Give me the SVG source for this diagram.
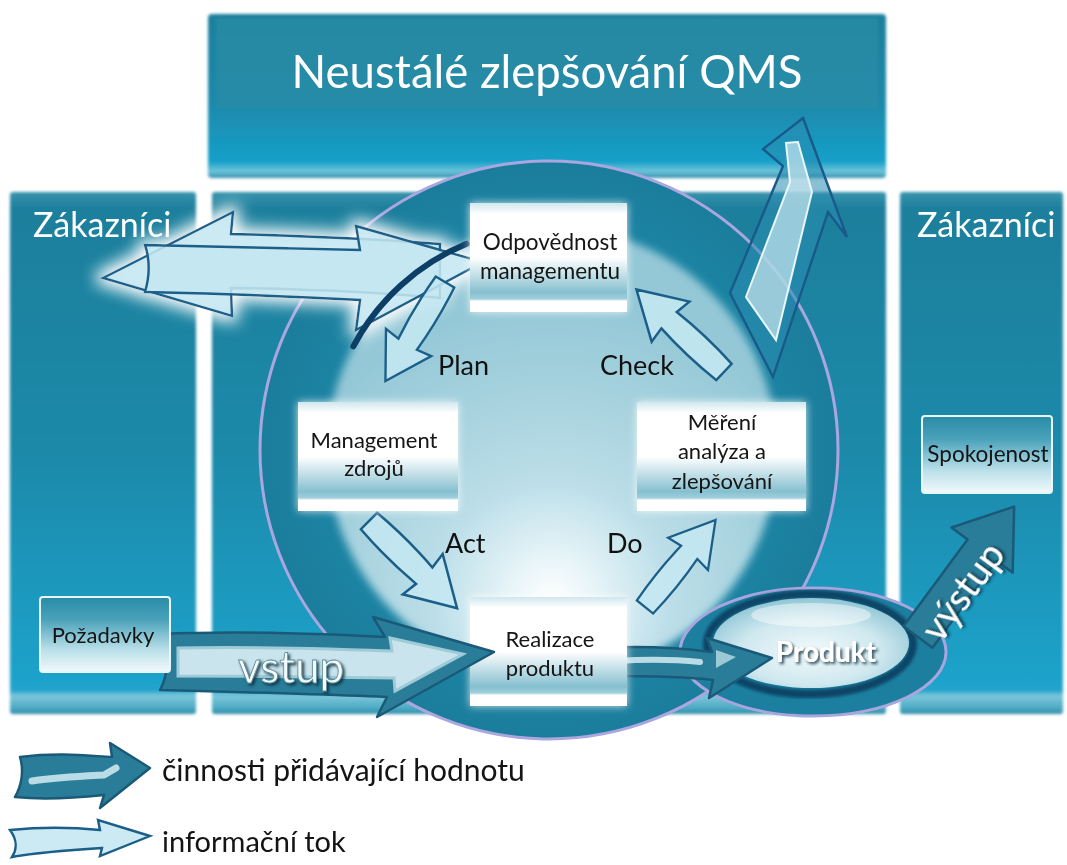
<svg xmlns="http://www.w3.org/2000/svg" xmlns:xlink="http://www.w3.org/1999/xlink" width="1067" height="865" viewBox="0 0 1067 865">
  <style>
    .ttl { font-family: Lato, "Liberation Sans", sans-serif; fill: #ffffff; }
    .lbl { font-family: Lato, "Liberation Sans", sans-serif; fill: #141414; }
    .phase { font-family: Lato, "Liberation Sans", sans-serif; fill: #111111; font-size: 27px; }
    .info { fill: #c4e7f1; fill-opacity: 0.88; stroke: #1b5f88; stroke-width: 2.4; stroke-linejoin: miter; }
    .value { fill: #2a7d98; stroke: #1a5a78; stroke-width: 2.5; stroke-linejoin: round; }
    .valueIn { fill: #c9e4ec; stroke: #9fcbd8; stroke-width: 3; }
    .box { fill: url(#boxGrad); }
    .sbox { fill: url(#sideBoxGrad); stroke: #e8f6fa; stroke-width: 2; }
  </style>
  <defs>
    <linearGradient id="panelGrad" x1="0" y1="0" x2="0" y2="1">
      <stop offset="0" stop-color="#3894ad"/>
      <stop offset="0.03" stop-color="#1f7f9c"/>
      <stop offset="0.5" stop-color="#1d89a9"/>
      <stop offset="0.9" stop-color="#1aa0c8"/>
      <stop offset="0.955" stop-color="#21a4cc"/>
      <stop offset="0.965" stop-color="#7cc7db"/>
      <stop offset="0.99" stop-color="#4aa8c2"/>
      <stop offset="1" stop-color="#2b8aa4"/>
    </linearGradient>
    <linearGradient id="bannerGrad" x1="0" y1="0" x2="0" y2="1">
      <stop offset="0" stop-color="#1f7f9b"/>
      <stop offset="0.55" stop-color="#1b89ab"/>
      <stop offset="0.9" stop-color="#18a0c9"/>
      <stop offset="0.96" stop-color="#6fc4da"/>
      <stop offset="1" stop-color="#2c8eaa"/>
    </linearGradient>
    <radialGradient id="ringGrad" cx="549" cy="450" r="289" gradientUnits="userSpaceOnUse">
      <stop offset="0.7" stop-color="#1c86a6"/>
      <stop offset="1" stop-color="#1b7d9c"/>
    </radialGradient>
    <radialGradient id="diskGrad" cx="552" cy="600" r="300" gradientUnits="userSpaceOnUse">
      <stop offset="0" stop-color="#ffffff"/>
      <stop offset="0.15" stop-color="#e6f4f8"/>
      <stop offset="0.4" stop-color="#bbdee8"/>
      <stop offset="0.7" stop-color="#a6d2de"/>
      <stop offset="1" stop-color="#94c8d7"/>
    </radialGradient>
    <linearGradient id="boxGrad" x1="0" y1="0" x2="0" y2="1">
      <stop offset="0" stop-color="#cfe7ee"/>
      <stop offset="0.1" stop-color="#ffffff"/>
      <stop offset="0.5" stop-color="#ffffff"/>
      <stop offset="0.82" stop-color="#86c0d0"/>
      <stop offset="0.88" stop-color="#9fcfdc"/>
      <stop offset="0.9" stop-color="#ffffff"/>
      <stop offset="1" stop-color="#ffffff"/>
    </linearGradient>
    <linearGradient id="sideBoxGrad" x1="0" y1="0" x2="0" y2="1">
      <stop offset="0" stop-color="#2a8ba7"/>
      <stop offset="0.3" stop-color="#4aa2ba"/>
      <stop offset="0.7" stop-color="#b9dfe9"/>
      <stop offset="1" stop-color="#f2fafc"/>
    </linearGradient>
    <radialGradient id="prodGrad" cx="0.5" cy="0.6" r="0.6">
      <stop offset="0" stop-color="#f2fafc"/>
      <stop offset="0.6" stop-color="#cfe8ef"/>
      <stop offset="1" stop-color="#8fc6d6"/>
    </radialGradient>
    <filter id="soft" x="-5%" y="-5%" width="110%" height="110%">
      <feGaussianBlur stdDeviation="1.4"/>
    </filter>
    <filter id="blur4" x="-10%" y="-10%" width="120%" height="120%">
      <feGaussianBlur stdDeviation="4"/>
    </filter>
    <filter id="glow" x="-30%" y="-40%" width="160%" height="180%">
      <feMorphology in="SourceAlpha" operator="dilate" radius="5" result="d"/>
      <feGaussianBlur in="d" stdDeviation="8" result="b"/>
      <feFlood flood-color="#ffffff" flood-opacity="1"/>
      <feComposite in2="b" operator="in" result="g"/>
      <feMerge><feMergeNode in="g"/><feMergeNode in="SourceGraphic"/></feMerge>
    </filter>
    <filter id="boxGlow" x="-20%" y="-20%" width="140%" height="140%">
      <feGaussianBlur in="SourceAlpha" stdDeviation="4" result="b"/>
      <feFlood flood-color="#ffffff" flood-opacity="0.8"/>
      <feComposite in2="b" operator="in" result="g"/>
      <feMerge><feMergeNode in="g"/><feMergeNode in="SourceGraphic"/></feMerge>
    </filter>
    <filter id="txtShadow" x="-20%" y="-30%" width="140%" height="160%">
      <feGaussianBlur in="SourceAlpha" stdDeviation="1.6" result="b"/>
      <feOffset in="b" dx="1.5" dy="1.5" result="o"/>
      <feFlood flood-color="#0a2a3a" flood-opacity="0.85"/>
      <feComposite in2="o" operator="in" result="s"/>
      <feMerge><feMergeNode in="s"/><feMergeNode in="SourceGraphic"/></feMerge>
    </filter>
    <!-- light PDCA arrow, pointing along +x, 118 long -->
    <path id="pdcaArrow" d="M0,-11 C25,-13 50,-13 74,-11 L72,-27 L118,0 L72,27 L74,11 C50,13 25,13 0,11 Z"/>
  </defs>

  <rect width="1067" height="865" fill="#ffffff"/>

  <!-- background panels -->
  <g id="panels" filter="url(#soft)">
    <rect x="208" y="14" width="678" height="164" rx="4" fill="url(#bannerGrad)"/>
    <rect x="216" y="18" width="662" height="90" fill="#2b8ca6" opacity="0.75"/>
    <rect x="10" y="192" width="186" height="522" rx="3" fill="url(#panelGrad)"/>
    <rect x="212" y="192" width="674" height="522" rx="3" fill="url(#panelGrad)"/>
    <rect x="900" y="192" width="163" height="522" rx="3" fill="url(#panelGrad)"/>
  </g>

  <g id="title">
    <text class="ttl" x="547" y="88" font-size="45.5" text-anchor="middle">Neustálé zlepšování QMS</text>
    <text class="ttl" x="33" y="237" font-size="34">Zákazníci</text>
    <text class="ttl" x="917" y="237" font-size="34">Zákazníci</text>
  </g>

  <!-- PDCA circle -->
  <g id="cycle">
    <circle cx="549" cy="450" r="289" fill="url(#ringGrad)" stroke="#a9a6e0" stroke-width="3"/>
    <circle cx="552" cy="452" r="225" fill="url(#diskGrad)" filter="url(#blur4)"/>
  </g>

  <!-- product ellipse -->
  <g id="produkt">
    <ellipse cx="813" cy="652" rx="133" ry="64" fill="#1c7f9f" stroke="#a8a5df" stroke-width="3"/>
    <ellipse cx="810" cy="644" rx="103" ry="50" fill="none" stroke="#0c4466" stroke-width="8" filter="url(#soft)"/>
    <ellipse cx="811" cy="643" rx="98" ry="45" fill="url(#prodGrad)"/>
    <ellipse cx="811" cy="615" rx="60" ry="12" fill="#ffffff" opacity="0.45"/>
  </g>

  <!-- upward arrow towards the improvement banner -->
  <g id="improve-arrow">
    <path d="M803,118 L847,237 L828,212 L773,377 L730,293 L783,166 L763,149 Z" fill="#2a8db0" fill-opacity="0.55" stroke="#1a5a8a" stroke-width="2.4" stroke-linejoin="miter"/>
    <path d="M786,143 L798,142 L812,192 L776,340 L746,297 L790,182 Z" fill="#cbe7ef" fill-opacity="0.7" stroke="#e9f6fa" stroke-width="2"/>
  </g>

  <g id="connectors">
    <!-- customer information exchange -->
    <g filter="url(#glow)">
      <path class="info" d="M103,278 L233,212 L231,234 C320,236 390,240 440,244 L440,298 C380,292 310,289 231,288 L232,316 Z"/>
      <path class="info" d="M145,245 C250,247 310,249 360,250 L356,226 L483,262 L356,330 L360,300 C300,297 240,294 145,292 C150,275 150,260 145,245 Z"/>
    </g>
    <!-- shaded inner edge of the cycle -->
    <path d="M466.6,243.8 A225,225 0 0 0 353.3,346.4" fill="none" stroke="#0d3f66" stroke-width="6" stroke-linecap="round"/>
    <!-- PDCA information arrows -->
    <use xlink:href="#pdcaArrow" class="info" transform="translate(445,282) rotate(121) scale(0.98)"/>
    <use xlink:href="#pdcaArrow" class="info" transform="translate(724,372) rotate(-136.7) scale(1.02)"/>
    <use xlink:href="#pdcaArrow" class="info" transform="translate(369,521) rotate(44.7) scale(1.05)"/>
    <use xlink:href="#pdcaArrow" class="info" transform="translate(645,607) rotate(-51) scale(0.95)"/>

    <!-- value adding arrows -->
    <g id="to-product">
      <path class="value" d="M605,648 C640,646 680,648 712,652 L707,638 L772,658 L709,698 L713,680 C680,676 640,676 607,676 C602,665 602,656 605,648 Z"/>
      <path d="M616,661 C650,659 680,660 700,662" fill="none" stroke="#b9dce6" stroke-width="6" stroke-linecap="round"/>
      <path d="M716,668 L736,657 L716,650 Z" fill="#b9dce6" opacity="0.8"/>
    </g>
    <g id="vystup">
      <path class="value" transform="translate(918,637) rotate(-53.6)" d="M0,-18 L108,-18 L108,-38 L162,0 L108,38 L108,18 L0,18 Z"/>
      <text transform="translate(963,592) rotate(-53.6)" x="0" y="13" text-anchor="middle" font-family="Lato, 'Liberation Sans', sans-serif" font-size="38" fill="#ffffff" filter="url(#txtShadow)">výstup</text>
    </g>
  </g>

  <text x="826" y="662" text-anchor="middle" font-family="Lato, 'Liberation Sans', sans-serif" font-size="28" font-weight="bold" fill="#ffffff" filter="url(#txtShadow)">Produkt</text>

  <!-- process nodes -->
  <g id="n-odpovednost" filter="url(#boxGlow)">
    <rect class="box" x="470" y="203" width="157" height="109"/>
    <text class="lbl" x="550" y="250" font-size="22.5" text-anchor="middle">Odpovědnost</text>
    <text class="lbl" x="550" y="279" font-size="22.5" text-anchor="middle">managementu</text>
  </g>
  <g id="n-management" filter="url(#boxGlow)">
    <rect class="box" x="298" y="402" width="160" height="109"/>
    <text class="lbl" x="374" y="448" font-size="22" text-anchor="middle">Management</text>
    <text class="lbl" x="374" y="476" font-size="22" text-anchor="middle">zdrojů</text>
  </g>
  <g id="n-mereni" filter="url(#boxGlow)">
    <rect class="box" x="637" y="402" width="169" height="109"/>
    <text class="lbl" x="722" y="430" font-size="22" text-anchor="middle">Měření</text>
    <text class="lbl" x="722" y="459" font-size="22" text-anchor="middle">analýza a</text>
    <text class="lbl" x="722" y="489" font-size="22" text-anchor="middle">zlepšování</text>
  </g>
  <g id="n-realizace" filter="url(#boxGlow)">
    <rect class="box" x="470" y="597" width="157" height="109"/>
    <text class="lbl" x="550" y="647" font-size="22" text-anchor="middle">Realizace</text>
    <text class="lbl" x="550" y="676" font-size="22" text-anchor="middle">produktu</text>
  </g>

  <!-- input arrow, drawn over the left edge of the realisation node -->
  <g id="vstup">
    <path class="value" d="M160,634 C250,630 330,634 385,637 L373,617 L494,652 L377,717 L387,697 C320,694 240,692 160,690 C170,672 168,650 160,634 Z"/>
    <path class="valueIn" d="M178,648 C260,646 330,649 392,651 L390,638 L463,654 L395,691 L394,678 C320,677 250,676 178,676 Z"/>
    <text x="238" y="683" font-family="Lato, 'Liberation Sans', sans-serif" font-size="44" fill="#f4fbfd" stroke="#5e8a98" stroke-width="0.8" filter="url(#txtShadow)">vstup</text>
  </g>

  <g id="n-pozadavky">
    <rect class="sbox" x="40" y="597" width="130" height="75" rx="3"/>
    <text class="lbl" x="103" y="643" font-size="22" text-anchor="middle">Požadavky</text>
  </g>
  <g id="n-spokojenost">
    <rect class="sbox" x="922" y="416" width="130" height="77" rx="3"/>
    <text class="lbl" x="988" y="462" font-size="22.5" text-anchor="middle">Spokojenost</text>
  </g>

  <g id="phases">
    <text class="phase" x="438" y="375">Plan</text>
    <text class="phase" x="600" y="375">Check</text>
    <text class="phase" x="445" y="553">Act</text>
    <text class="phase" x="607" y="553">Do</text>
  </g>

  <!-- legend -->
  <g id="legend">
    <path class="value" d="M20,757 C60,752 90,756 112,757 L110,743 L150,768 L100,808 L104,795 C75,798 45,800 15,797 C22,785 24,770 20,757 Z"/>
    <path d="M32,781 C60,777 85,776 104,775 L116,768" fill="none" stroke="#b9dce6" stroke-width="7" stroke-linecap="round" stroke-linejoin="round"/>
    <path class="info" d="M10,830 C50,826 80,828 100,830 L98,820 L150,836 L100,856 L102,848 C70,850 40,852 12,857 C18,848 16,838 10,830 Z"/>
    <text class="lbl" x="162" y="781" font-size="30">činnosti přidávající hodnotu</text>
    <text class="lbl" x="162" y="852" font-size="29">informační tok</text>
  </g>
</svg>
